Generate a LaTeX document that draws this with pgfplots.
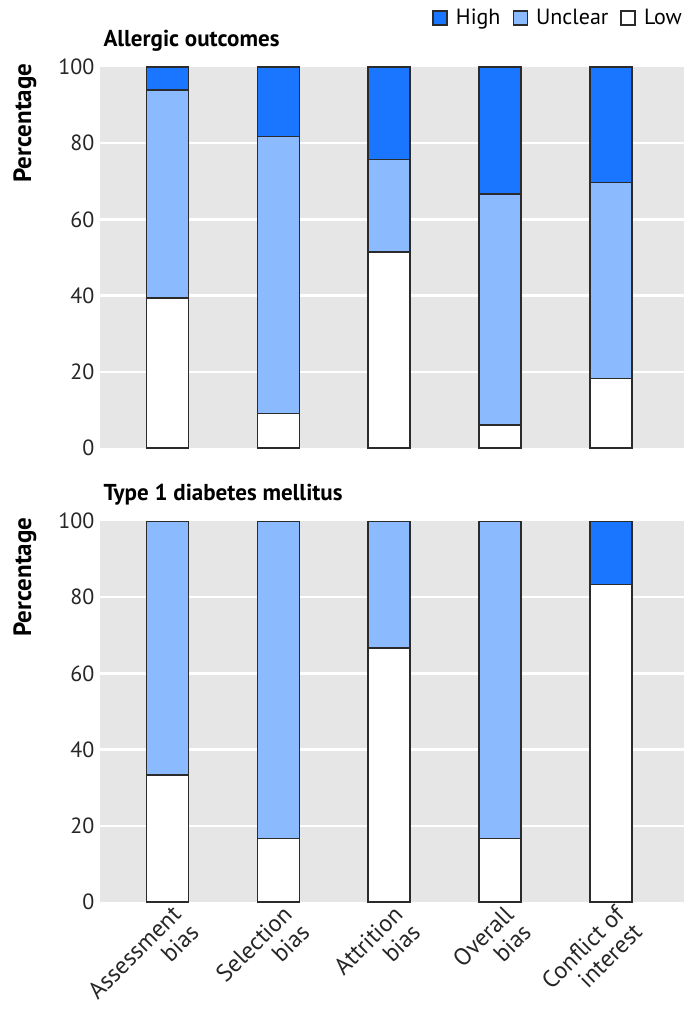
\documentclass[border=0pt]{standalone}
\usepackage{fontspec}
\setmainfont{PT Sans}
\usepackage{pgfplots}
\pgfplotsset{compat=1.18}
\definecolor{hi}{HTML}{1A75FF}
\definecolor{un}{HTML}{8CBAFF}
\definecolor{bg}{HTML}{E6E6E6}
\definecolor{edge}{HTML}{2B2B2B}
\pgfplotsset{riskax/.style={
  scale only axis, width=584pt, height=381pt,
  xmin=-0.61, xmax=4.66, ymin=0, ymax=100,
  ybar stacked, bar width=0.38,
  axis background/.style={fill=bg},
  axis line style={draw=none},
  major tick length=0pt,
  xtick={0,1,2,3,4},
  ytick={0,20,40,60,80,100},
  extra y ticks={20,40,60,80},
  extra y tick labels={},
  extra y tick style={ymajorgrids=true, major tick length=0pt},
  grid style={white, line width=2.5pt},
  /pgf/number format/assume math mode=true,
  tick label style={font=\fontsize{22}{22}\selectfont, text=black!85},
  yticklabel style={xshift=-2pt},
  ylabel={Percentage},
  ylabel style={font=\bfseries\fontsize{25}{25}\selectfont, at={(axis description cs:-0.103,1.018)}, anchor=south east},
  title style={font=\bfseries\fontsize{23}{23}\selectfont, at={(axis description cs:0,1.037)}, anchor=base west},
  every axis plot/.append style={draw=edge, line width=1.6pt},
  legend image code/.code={\draw[#1, draw=edge, line width=1.6pt] (0pt,-7pt) rectangle (14pt,7pt);},
}}
\begin{document}
\begin{tikzpicture}
\useasboundingbox (-100pt,-575pt) rectangle (584pt,448pt);
\begin{axis}[riskax, at={(0pt,0pt)}, anchor=south west,
  xticklabels={},
  title={Allergic outcomes},
  legend columns=3,
  legend style={at={(axis description cs:1,1.129)}, anchor=east, draw=none, fill=none, inner sep=0pt,
    font=\fontsize{22}{22}\selectfont,
    /tikz/every even column/.append style={column sep=10pt},
    /tikz/every odd column/.append style={column sep=6pt}},
  legend cell align=left]
\addlegendimage{fill=hi}\addlegendentry{High}
\addlegendimage{fill=un}\addlegendentry{Unclear}
\addlegendimage{fill=white}\addlegendentry{Low}
\addplot[fill=white, forget plot] coordinates {(0,39.4) (1,9.1) (2,51.5) (3,6.1) (4,18.2)};
\addplot[fill=un, forget plot] coordinates {(0,54.5) (1,72.7) (2,24.2) (3,60.6) (4,51.5)};
\addplot[fill=hi, forget plot] coordinates {(0,6.1) (1,18.2) (2,24.3) (3,33.3) (4,30.3)};
\end{axis}
\begin{axis}[riskax, at={(0pt,-454pt)}, anchor=south west,
  title={Type 1 diabetes mellitus},
  xticklabels={{Assessment\\bias},{Selection\\bias},{Attrition\\bias},{Overall\\bias},{Conflict of\\interest}},
  xticklabel style={rotate=45, anchor=north east, align=right, font=\fontsize{24}{25}\selectfont, xshift=4pt}]
\addplot[fill=white] coordinates {(0,33.3) (1,16.7) (2,66.7) (3,16.7) (4,83.3)};
\addplot[fill=un] coordinates {(0,66.7) (1,83.3) (2,33.3) (3,83.3) (4,0)};
\addplot[fill=hi] coordinates {(0,0) (1,0) (2,0) (3,0) (4,16.7)};
\end{axis}
\end{tikzpicture}
\end{document}
